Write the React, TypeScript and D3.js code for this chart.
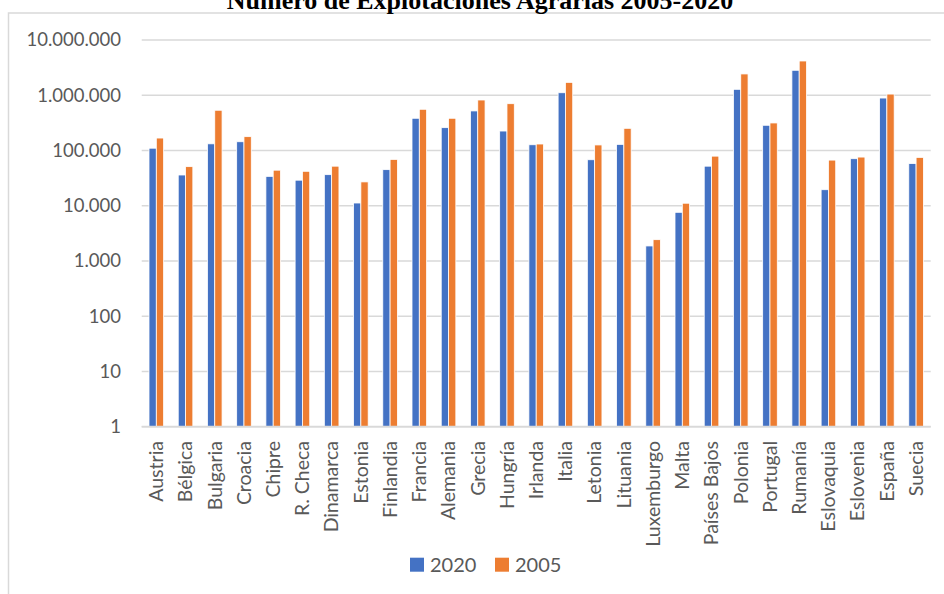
import React, { useEffect, useRef } from 'react';
import * as d3 from 'd3';

const countries = [
    'Austria', 'Bélgica', 'Bulgaria', 'Croacia', 'Chipre', 'R. Checa', 'Dinamarca', 'Estonia',
    'Finlandia', 'Francia', 'Alemania', 'Grecia', 'Hungría', 'Irlanda', 'Italia', 'Letonia',
    'Lituania', 'Luxemburgo', 'Malta', 'Países Bajos', 'Polonia', 'Portugal', 'Rumanía',
    'Eslovaquia', 'Eslovenia', 'España', 'Suecia'
];

const values2020 = [
    110000, 36000, 132000, 144000, 34000, 29000, 36500, 11200,
    45000, 383000, 259000, 520000, 225000, 127000, 1110000, 68000,
    129000, 1870, 7600, 52000, 1280000, 286000, 2830000,
    19500, 71000, 890000, 58000
];

const values2005 = [
    168000, 51000, 535000, 178000, 44000, 42000, 52000, 27000,
    69000, 557000, 383000, 820000, 703000, 131000, 1710000, 126000,
    252000, 2430, 11100, 79000, 2430000, 315000, 4170000,
    67000, 76000, 1050000, 75000
];

const seriesNames = ['2020', '2005'];
const seriesColors = ['#4472C4', '#ED7D31'];
const yTicks = [1, 10, 100, 1000, 10000, 100000, 1000000, 10000000];

const esLocale = d3.formatLocale({ decimal: ',', thousands: '.', grouping: [3], currency: ['', ''] });
const fmt = esLocale.format(',d');

const W = 944;
const H = 594;

export default function App() {
    const svgRef = useRef<SVGSVGElement>(null);

    useEffect(() => {
        if (!svgRef.current) return;
        const svg = d3.select(svgRef.current);
        svg.selectAll('*').remove();

        const plot = { left: 141.7, right: 930.7, top: 40, bottom: 426.7 };
        const textColor = '#595959';
        const gridColor = '#d9d9d9';
        const font = 'Lato, "Open Sans", sans-serif';

        // chart frame (cut off on the right and bottom)
        svg.append('rect')
            .attr('x', 8.5).attr('y', 13)
            .attr('width', W + 20).attr('height', H + 20)
            .attr('fill', 'white')
            .attr('stroke', gridColor).attr('stroke-width', 1.5);

        svg.append('text')
            .attr('x', 480).attr('y', 8.5)
            .attr('text-anchor', 'middle')
            .attr('font-family', '"Liberation Serif", "Times New Roman", serif')
            .attr('font-weight', 'bold')
            .attr('font-size', 26)
            .attr('fill', '#000')
            .text('Número de Explotaciones Agrarias 2005-2020');

        const x = d3.scaleBand<string>()
            .domain(countries)
            .range([plot.left, plot.right]);

        const xInner = d3.scaleBand<string>()
            .domain(seriesNames)
            .range([0, x.bandwidth() * 0.5]);

        const y = d3.scaleLog()
            .domain([1, 1e7])
            .range([plot.bottom, plot.top]);

        // gridlines
        svg.append('g').selectAll('line')
            .data(yTicks)
            .enter()
            .append('line')
            .attr('x1', plot.left).attr('x2', plot.right)
            .attr('y1', d => y(d)).attr('y2', d => y(d))
            .attr('stroke', gridColor)
            .attr('stroke-width', 1.5);

        // y labels
        svg.append('g').selectAll('text')
            .data(yTicks)
            .enter()
            .append('text')
            .attr('x', 121)
            .attr('y', d => y(d))
            .attr('dy', '0.35em')
            .attr('text-anchor', 'end')
            .attr('font-family', font)
            .attr('font-size', 18.5)
            .attr('fill', textColor)
            .text(d => fmt(d));

        // bars
        const series = [values2020, values2005];
        series.forEach((vals, si) => {
            svg.append('g').selectAll('rect')
                .data(countries)
                .enter()
                .append('rect')
                .attr('x', d => (x(d) as number) + x.bandwidth() * 0.25 + (xInner(seriesNames[si]) as number))
                .attr('width', xInner.bandwidth())
                .attr('y', (d, i) => y(vals[i]))
                .attr('height', (d, i) => y(1) - y(vals[i]))
                .attr('fill', seriesColors[si])
                .attr('stroke', 'white')
                .attr('stroke-width', 0.8);
        });

        // baseline
        svg.append('line')
            .attr('x1', plot.left).attr('x2', plot.right)
            .attr('y1', y(1)).attr('y2', y(1))
            .attr('stroke', gridColor)
            .attr('stroke-width', 1.8);

        // x labels
        svg.append('g').selectAll('text')
            .data(countries)
            .enter()
            .append('text')
            .attr('transform', d => `translate(${(x(d) as number) + x.bandwidth() / 2},${441}) rotate(-90)`)
            .attr('dy', '0.35em')
            .attr('text-anchor', 'end')
            .attr('font-family', font)
            .attr('font-size', 19.5)
            .attr('fill', textColor)
            .text(d => d);

        // legend
        const legendX = [410, 495];
        const legend = svg.append('g');
        seriesNames.forEach((name, i) => {
            legend.append('rect')
                .attr('x', legendX[i]).attr('y', 557.7)
                .attr('width', 14).attr('height', 14)
                .attr('fill', seriesColors[i]);
            legend.append('text')
                .attr('x', legendX[i] + 20).attr('y', 564.7)
                .attr('dy', '0.35em')
                .attr('font-family', font)
                .attr('font-size', 20)
                .attr('fill', textColor)
                .text(name);
        });
    }, []);

    return (
        <svg
            ref={svgRef}
            width={W}
            height={H}
            style={{ position: 'absolute', left: 0, top: 0, display: 'block', background: 'white' }}
        />
    );
}
